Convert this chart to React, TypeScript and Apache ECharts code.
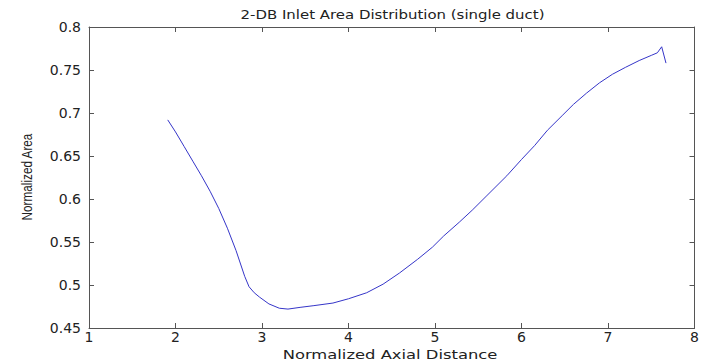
import React, { useEffect, useRef } from "react";
import * as echarts from "echarts";

const xValues = [1.91, 2.0, 2.1, 2.2, 2.3, 2.4, 2.5, 2.6, 2.7, 2.8, 2.85, 2.91, 2.97, 3.08, 3.2, 3.3, 3.44, 3.6, 3.82, 4.0, 4.21, 4.4, 4.59, 4.8, 4.97, 5.1, 5.28, 5.43, 5.6, 5.83, 6.0, 6.15, 6.3, 6.47, 6.6, 6.75, 6.9, 7.05, 7.2, 7.36, 7.5, 7.57, 7.62, 7.67];
const yValues = [0.692, 0.678, 0.661, 0.644, 0.627, 0.609, 0.589, 0.566, 0.54, 0.51, 0.498, 0.491, 0.486, 0.478, 0.473, 0.472, 0.474, 0.476, 0.479, 0.484, 0.491, 0.501, 0.514, 0.53, 0.544, 0.557, 0.573, 0.587, 0.604, 0.627, 0.646, 0.662, 0.68, 0.697, 0.71, 0.723, 0.735, 0.745, 0.753, 0.761, 0.767, 0.77, 0.777, 0.758];

const title = "2-DB Inlet Area Distribution (single duct)";
const xName = "Normalized Axial Distance";
const yName = "Normalized Area";

export default function App() {
  const ref = useRef<HTMLDivElement>(null);
  useEffect(() => {
    if (!ref.current) return;
    const chart = echarts.init(ref.current, null, { renderer: "svg" });
    const axisColor = "#555555";
    const font = "'DejaVu Sans', Verdana, sans-serif";
    const textColor = "#222222";
    const lineStyle = { color: axisColor, width: 1 };
    chart.setOption({
      animation: false,
      backgroundColor: "#ffffff",
      graphic: [
        {
          type: "text",
          x: 392.5,
          y: 14,
          scaleX: 1.15,
          style: {
            text: title,
            fontFamily: font,
            fontSize: 13,
            fill: textColor,
            align: "center",
            verticalAlign: "middle",
          },
        },
        {
          type: "text",
          x: 390,
          y: 354,
          scaleX: 1.26,
          style: {
            text: xName,
            fontFamily: font,
            fontSize: 13,
            fill: textColor,
            align: "center",
            verticalAlign: "middle",
          },
        },
        {
          type: "text",
          x: 27,
          y: 177,
          rotation: Math.PI / 2,
          scaleX: 0.84,
          style: {
            text: yName,
            fontFamily: "'Liberation Sans', Arial, sans-serif",
            fontSize: 14,
            fill: textColor,
            align: "center",
            verticalAlign: "middle",
          },
        },
      ],
      grid: { left: 89, top: 27, right: 7, bottom: 35, show: false },
      xAxis: [
        {
          type: "value",
          min: 1,
          max: 8,
          interval: 1,
          position: "bottom",
          axisLine: { show: true, lineStyle },
          axisTick: { show: true, inside: true, length: 5, lineStyle },
          axisLabel: { fontFamily: font, fontSize: 14, color: textColor, margin: 2 },
          splitLine: { show: false },
        },
        {
          type: "value",
          min: 1,
          max: 8,
          interval: 1,
          position: "top",
          axisLine: { show: true, lineStyle },
          axisTick: { show: true, inside: true, length: 5, lineStyle },
          axisLabel: { show: false },
          splitLine: { show: false },
        },
      ],
      yAxis: [
        {
          type: "value",
          min: 0.45,
          max: 0.8,
          interval: 0.05,
          position: "left",
          axisLine: { show: true, lineStyle },
          axisTick: { show: true, inside: true, length: 5, lineStyle },
          axisLabel: {
            fontFamily: font,
            fontSize: 14,
            color: textColor,
            margin: 8,
            formatter: (v: number) => String(parseFloat(v.toFixed(2))),
          },
          splitLine: { show: false },
        },
        {
          type: "value",
          min: 0.45,
          max: 0.8,
          interval: 0.05,
          position: "right",
          axisLine: { show: true, lineStyle },
          axisTick: { show: true, inside: true, length: 5, lineStyle },
          axisLabel: { show: false },
          splitLine: { show: false },
        },
      ],
      series: [
        {
          type: "line",
          data: xValues.map((x, i) => [x, yValues[i]]),
          showSymbol: false,
          symbol: "none",
          lineStyle: { color: "#3535c8", width: 1 },
          xAxisIndex: 0,
          yAxisIndex: 0,
        },
      ],
    });
    return () => chart.dispose();
  }, []);
  return <div ref={ref} style={{ width: 702, height: 363, position: "fixed", left: 0, top: 0 }} />;
}
